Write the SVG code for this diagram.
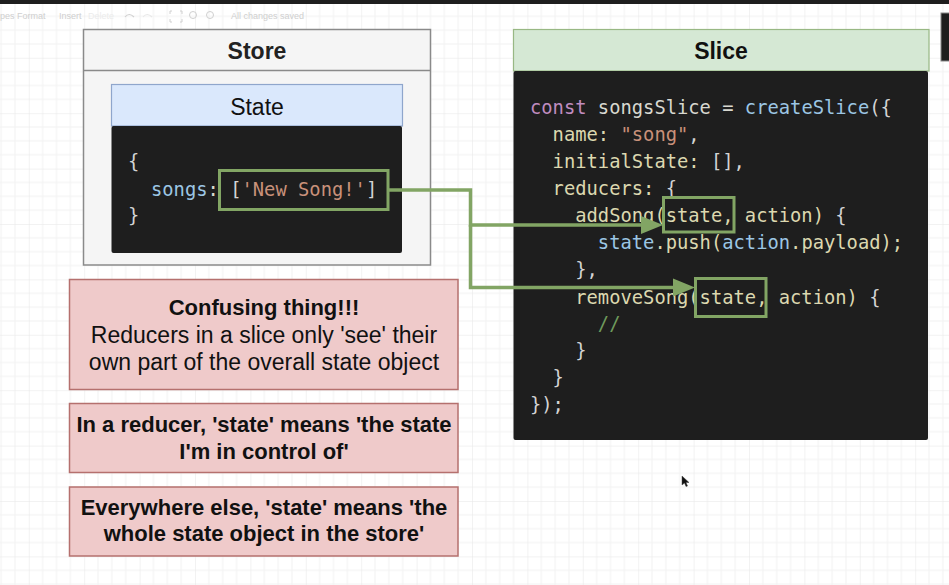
<svg xmlns="http://www.w3.org/2000/svg" width="949" height="585" viewBox="0 0 949 585">
  <style>
    .hdr { font-family: "Liberation Sans", Arial, sans-serif; font-size: 23px; text-anchor: middle; fill: #222; }
    .b { font-weight: bold; }
    .note { font-family: "Liberation Sans", Arial, sans-serif; font-size: 22px; text-anchor: middle; fill: #111; }
    .code { font-family: "DejaVu Sans Mono", "Liberation Mono", monospace; font-size: 18.8px; fill: #dcd8b0; white-space: pre; }
    .p { fill: #d4d4d4; }
    .kw { fill: #c08cc0; }
    .bl { fill: #9cc6e4; }
    .st { fill: #c9917a; }
    .cm { fill: #6f9a5c; }
    .wh { fill: #d8d8d0; }
    .hl { fill: none; stroke: #82a564; stroke-width: 3; }
    .conn { fill: none; stroke: #82a564; stroke-width: 3.5; }
    .pink { fill: #efcaca; stroke: #b5706e; stroke-width: 1.5; }
    .tb { font-family: "Liberation Sans", Arial, sans-serif; font-size: 9px; fill: #cfcfcf; }
  </style>
  <defs>
    <pattern id="grid" x="28.8" y="2.4" width="55.4" height="55.4" patternUnits="userSpaceOnUse">
      <path d="M13.85 0V55.4M27.7 0V55.4M41.55 0V55.4M0 13.85H55.4M0 27.7H55.4M0 41.55H55.4" stroke="#f2f2f2" stroke-width="1" fill="none"/>
      <path d="M0 0V55.4M0 0H55.4" stroke="#e6e6e6" stroke-width="1" fill="none"/>
    </pattern>
    <marker id="arrow" markerUnits="userSpaceOnUse" markerWidth="24" markerHeight="20" refX="2" refY="10" orient="auto">
      <path d="M0,1 L22,10 L0,19 z" fill="#82a564"/>
    </marker>
  </defs>

  <rect width="949" height="585" fill="#ffffff"/>
  <rect width="949" height="585" fill="url(#grid)"/>
  <rect x="0" y="0" width="949" height="4" fill="#1e1e1e"/>

  <g id="toolbar">
    <text class="tb" x="0" y="19">pes  Format</text>
    <text class="tb" x="59" y="19">Insert</text>
    <text class="tb" x="88" y="19" style="fill:#ececec">Delete</text>
    <path d="M125 17 q4 -5 9 0" stroke="#d0d0d0" stroke-width="1.2" fill="none"/>
    <path d="M143 17 q4 -5 9 0" stroke="#e8e8e8" stroke-width="1.2" fill="none"/>
    <path d="M172 11 h-2 v3 M180 11 h2 v3 M172 22 h-2 v-3 M180 22 h2 v-3" stroke="#d0d0d0" stroke-width="1" fill="none"/>
    <circle cx="193" cy="15" r="3.5" stroke="#d0d0d0" fill="none"/>
    <circle cx="210" cy="15" r="3.5" stroke="#d0d0d0" fill="none"/>
    <text class="tb" x="231" y="19">All changes saved</text>
  </g>

  <g id="top-right-block">
    <rect x="941" y="13" width="10" height="48" fill="#1e1e1e" stroke="#888" stroke-width="1"/>
  </g>

  <g id="store">
    <rect x="83.5" y="29.5" width="347" height="235.5" fill="#f5f5f5" stroke="#8a8a8a" stroke-width="1.5"/>
    <line x1="83.5" y1="70.5" x2="430.5" y2="70.5" stroke="#8a8a8a" stroke-width="1.5"/>
    <text class="hdr b" x="257" y="59">Store</text>
  </g>

  <g id="state">
    <rect x="111.5" y="84.5" width="291" height="41.5" fill="#dae8fc" stroke="#8fa6cc" stroke-width="1.2"/>
    <text class="hdr" x="257" y="115" style="fill:#111">State</text>
    <rect x="111.5" y="126" width="290.5" height="127" rx="2" fill="#1e1e1e"/>
    <text class="code p" x="128" y="168">{</text>
    <text class="code" x="151" y="196"><tspan class="bl">songs</tspan><tspan class="wh">: </tspan><tspan class="p">[</tspan><tspan class="st">'New Song!'</tspan><tspan class="p">]</tspan></text>
    <text class="code p" x="128" y="222">}</text>
    <rect class="hl" x="219.5" y="170.5" width="168.5" height="39"/>
  </g>

  <g id="slice">
    <rect x="513.5" y="29.5" width="415.5" height="41.5" fill="#d5e8d4" stroke="#98b884" stroke-width="1.2"/>
    <text class="hdr b" x="721" y="59" style="fill:#111">Slice</text>
    <rect x="513.5" y="71" width="414.5" height="369" rx="2" fill="#1e1e1e"/>
    <text class="code" x="530" y="114"><tspan class="kw">const</tspan><tspan class="wh"> songsSlice = </tspan><tspan class="bl">createSlice</tspan><tspan class="p">({</tspan></text>
    <text class="code" x="530" y="141">  name: <tspan class="st">"song"</tspan><tspan class="p">,</tspan></text>
    <text class="code" x="530" y="168">  initialState: <tspan class="p">[],</tspan></text>
    <text class="code" x="530" y="195">  reducers: <tspan class="p">{</tspan></text>
    <text class="code" x="530" y="222">    addSong(state, action) <tspan class="p">{</tspan></text>
    <text class="code" x="530" y="249">      <tspan class="bl">state</tspan>.push(<tspan class="bl">action</tspan>.payload);</text>
    <text class="code p" x="530" y="276">    },</text>
    <text class="code" x="530" y="304">    removeSong(state, action) <tspan class="p">{</tspan></text>
    <text class="code cm" x="530" y="330">      //</text>
    <text class="code p" x="530" y="357">    }</text>
    <text class="code p" x="530" y="384">  }</text>
    <text class="code p" x="530" y="411">});</text>
    <rect class="hl" x="663.5" y="197.5" width="70.5" height="34.5"/>
    <rect class="hl" x="695.5" y="278.5" width="70.5" height="38"/>
  </g>

  <g id="connectors">
    <path class="conn" d="M388 190 H470.5 V225 H643" marker-end="url(#arrow)"/>
    <path class="conn" d="M470.5 225 V287.5 H675" marker-end="url(#arrow)"/>
  </g>

  <g id="note-confusing">
    <rect class="pink" x="69.5" y="279.5" width="388.5" height="110"/>
    <text class="note b" x="264" y="315">Confusing thing!!!</text>
    <text class="note" x="264" y="343" style="font-size:23px">Reducers in a slice only 'see' their</text>
    <text class="note" x="264" y="370" style="font-size:23px">own part of the overall state object</text>
  </g>

  <g id="note-reducer">
    <rect class="pink" x="69.5" y="403.5" width="388.5" height="69"/>
    <text class="note b" x="264" y="432">In a reducer, 'state' means 'the state</text>
    <text class="note b" x="264" y="459">I'm in control of'</text>
  </g>

  <g id="note-everywhere">
    <rect class="pink" x="69.5" y="487" width="388.5" height="69"/>
    <text class="note b" x="264" y="515">Everywhere else, 'state' means 'the</text>
    <text class="note b" x="264" y="541">whole state object in the store'</text>
  </g>

  <g id="cursor">
    <path d="M682 476 L682 485 L684.5 483 L686 486.5 L687.5 486 L686 482.5 L689 482.5 Z" fill="#111" stroke="#444" stroke-width="0.5"/>
  </g>
</svg>
